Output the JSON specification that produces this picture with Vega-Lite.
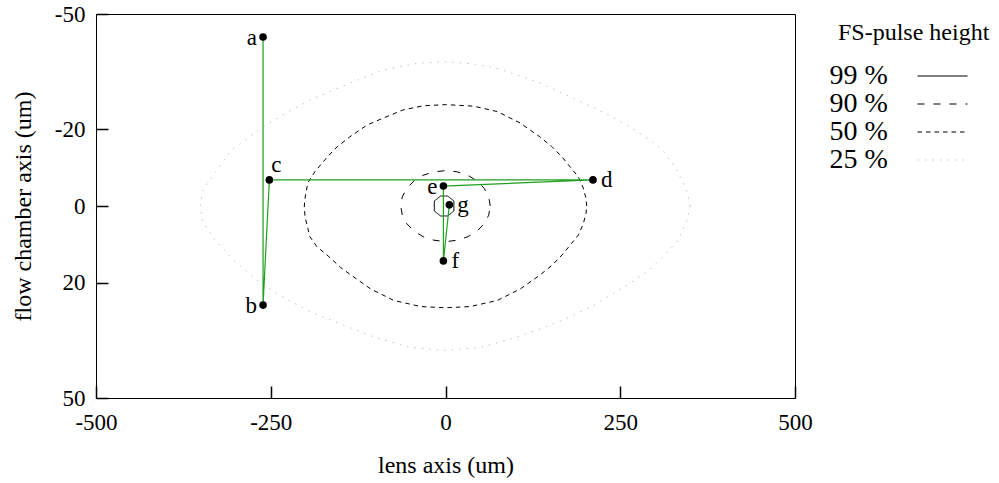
{
  "$schema": "https://vega.github.io/schema/vega-lite/v6.json",
  "width": 699,
  "height": 384,
  "autosize": "none",
  "padding": {"left": 96, "top": 14, "right": 204, "bottom": 85},
  "background": "white",
  "config": {
    "font": "Liberation Serif",
    "view": {"stroke": "black", "strokeWidth": 1},
    "axis": {
      "grid": false,
      "domain": false,
      "labelColor": "black",
      "titleColor": "black",
      "labelFlush": false,
      "labelFont": "Liberation Serif",
      "titleFont": "Liberation Serif",
      "labelFontSize": 23,
      "titleFontSize": 24,
      "titleFontWeight": "normal",
      "labelExpr": "'' + datum.value"
    }
  },
  "datasets": {
    "contours": [
      {"level": "25 %", "x": 350, "y": 0},
      {"level": "25 %", "x": 345, "y": -4},
      {"level": "25 %", "x": 331, "y": -9.4},
      {"level": "25 %", "x": 311, "y": -14.5},
      {"level": "25 %", "x": 290, "y": -17.5},
      {"level": "25 %", "x": 260, "y": -21},
      {"level": "25 %", "x": 230, "y": -24},
      {"level": "25 %", "x": 192, "y": -27.3},
      {"level": "25 %", "x": 160, "y": -30},
      {"level": "25 %", "x": 135, "y": -32},
      {"level": "25 %", "x": 100, "y": -34.3},
      {"level": "25 %", "x": 73, "y": -35.9},
      {"level": "25 %", "x": 40, "y": -37},
      {"level": "25 %", "x": 0, "y": -37.6},
      {"level": "25 %", "x": -40, "y": -37.2},
      {"level": "25 %", "x": -89, "y": -35.4},
      {"level": "25 %", "x": -130, "y": -32.5},
      {"level": "25 %", "x": -194, "y": -27.6},
      {"level": "25 %", "x": -230, "y": -24},
      {"level": "25 %", "x": -261, "y": -20.6},
      {"level": "25 %", "x": -306, "y": -14.6},
      {"level": "25 %", "x": -327, "y": -9.4},
      {"level": "25 %", "x": -347, "y": -4.2},
      {"level": "25 %", "x": -351, "y": 0},
      {"level": "25 %", "x": -347, "y": 4.2},
      {"level": "25 %", "x": -332, "y": 8.3},
      {"level": "25 %", "x": -304, "y": 14},
      {"level": "25 %", "x": -265, "y": 20},
      {"level": "25 %", "x": -230, "y": 24},
      {"level": "25 %", "x": -194, "y": 27.5},
      {"level": "25 %", "x": -160, "y": 30},
      {"level": "25 %", "x": -100, "y": 34.3},
      {"level": "25 %", "x": -50, "y": 36.8},
      {"level": "25 %", "x": 0, "y": 37.6},
      {"level": "25 %", "x": 50, "y": 36.8},
      {"level": "25 %", "x": 100, "y": 34.3},
      {"level": "25 %", "x": 135, "y": 32},
      {"level": "25 %", "x": 168, "y": 29.7},
      {"level": "25 %", "x": 211, "y": 26},
      {"level": "25 %", "x": 260, "y": 20.6},
      {"level": "25 %", "x": 292, "y": 16.7},
      {"level": "25 %", "x": 331, "y": 9.4},
      {"level": "25 %", "x": 345, "y": 4},
      {"level": "25 %", "x": 350, "y": 0},

      {"level": "50 %", "x": 202, "y": 0},
      {"level": "50 %", "x": 201, "y": -2},
      {"level": "50 %", "x": 197, "y": -4.7},
      {"level": "50 %", "x": 190, "y": -7.6},
      {"level": "50 %", "x": 180, "y": -9.8},
      {"level": "50 %", "x": 168, "y": -12.5},
      {"level": "50 %", "x": 152, "y": -15.5},
      {"level": "50 %", "x": 135, "y": -18},
      {"level": "50 %", "x": 107, "y": -21.6},
      {"level": "50 %", "x": 74, "y": -24.6},
      {"level": "50 %", "x": 40, "y": -26},
      {"level": "50 %", "x": 0, "y": -26.4},
      {"level": "50 %", "x": -32, "y": -26.1},
      {"level": "50 %", "x": -61, "y": -25},
      {"level": "50 %", "x": -89, "y": -22.9},
      {"level": "50 %", "x": -112, "y": -21.1},
      {"level": "50 %", "x": -137, "y": -18},
      {"level": "50 %", "x": -155, "y": -15.4},
      {"level": "50 %", "x": -168, "y": -13},
      {"level": "50 %", "x": -187, "y": -8.9},
      {"level": "50 %", "x": -197, "y": -6},
      {"level": "50 %", "x": -201, "y": -2},
      {"level": "50 %", "x": -202, "y": 0},
      {"level": "50 %", "x": -201, "y": 2.8},
      {"level": "50 %", "x": -194, "y": 8},
      {"level": "50 %", "x": -184, "y": 10.6},
      {"level": "50 %", "x": -168, "y": 13},
      {"level": "50 %", "x": -150, "y": 16},
      {"level": "50 %", "x": -135, "y": 18},
      {"level": "50 %", "x": -107, "y": 21.6},
      {"level": "50 %", "x": -74, "y": 24.6},
      {"level": "50 %", "x": -35, "y": 26.2},
      {"level": "50 %", "x": 0, "y": 26.5},
      {"level": "50 %", "x": 35, "y": 26.2},
      {"level": "50 %", "x": 74, "y": 24.6},
      {"level": "50 %", "x": 107, "y": 21.6},
      {"level": "50 %", "x": 135, "y": 18},
      {"level": "50 %", "x": 152, "y": 15.5},
      {"level": "50 %", "x": 168, "y": 12.5},
      {"level": "50 %", "x": 180, "y": 9.8},
      {"level": "50 %", "x": 190, "y": 7.6},
      {"level": "50 %", "x": 197, "y": 4.7},
      {"level": "50 %", "x": 201, "y": 2},
      {"level": "50 %", "x": 202, "y": 0},

      {"level": "90 %", "x": 64, "y": 0},
      {"level": "90 %", "x": 61.8, "y": -2.4},
      {"level": "90 %", "x": 55.4, "y": -4.6},
      {"level": "90 %", "x": 45.3, "y": -6.5},
      {"level": "90 %", "x": 32, "y": -8},
      {"level": "90 %", "x": 16.6, "y": -8.9},
      {"level": "90 %", "x": 0, "y": -9.2},
      {"level": "90 %", "x": -16.6, "y": -8.9},
      {"level": "90 %", "x": -32, "y": -8},
      {"level": "90 %", "x": -45.3, "y": -6.5},
      {"level": "90 %", "x": -55.4, "y": -4.6},
      {"level": "90 %", "x": -61.8, "y": -2.4},
      {"level": "90 %", "x": -64, "y": 0},
      {"level": "90 %", "x": -61.8, "y": 2.4},
      {"level": "90 %", "x": -55.4, "y": 4.6},
      {"level": "90 %", "x": -45.3, "y": 6.5},
      {"level": "90 %", "x": -32, "y": 8},
      {"level": "90 %", "x": -16.6, "y": 8.9},
      {"level": "90 %", "x": 0, "y": 9.3},
      {"level": "90 %", "x": 16.6, "y": 8.9},
      {"level": "90 %", "x": 32, "y": 8},
      {"level": "90 %", "x": 45.3, "y": 6.5},
      {"level": "90 %", "x": 55.4, "y": 4.6},
      {"level": "90 %", "x": 61.8, "y": 2.4},
      {"level": "90 %", "x": 64, "y": 0},

      {"level": "99 %", "x": -16, "y": -1.3},
      {"level": "99 %", "x": -7, "y": -2.6},
      {"level": "99 %", "x": 3, "y": -2.6},
      {"level": "99 %", "x": 12, "y": -1.3},
      {"level": "99 %", "x": 12, "y": 1.3},
      {"level": "99 %", "x": 3, "y": 2.6},
      {"level": "99 %", "x": -7, "y": 2.6},
      {"level": "99 %", "x": -16, "y": 1.3},
      {"level": "99 %", "x": -16, "y": -1.3}
    ],
    "track": [
      {"name": "a", "x": -261, "y": -44},
      {"name": "b", "x": -261, "y": 25.8},
      {"name": "c", "x": -252, "y": -6.8},
      {"name": "d", "x": 211, "y": -6.8},
      {"name": "e", "x": -3, "y": -5.2},
      {"name": "f", "x": -3, "y": 14.3},
      {"name": "g", "x": 5.5, "y": -0.3}
    ]
  },
  "encoding": {
    "x": {
      "field": "x",
      "type": "quantitative",
      "scale": {"domain": [-500, 500], "nice": false, "zero": false},
      "axis": {
        "title": "lens axis (um)",
        "values": [-500, -250, 0, 250, 500],
        "ticks": true,
        "tickSize": 12,
        "tickColor": "black",
        "tickWidth": 1.5,
        "tickOpacity": 1,
        "offset": -12,
        "zindex": 2,
        "labelPadding": 13,
        "titlePadding": 19
      }
    },
    "y": {
      "field": "y",
      "type": "quantitative",
      "scale": {"domain": [-50, 50], "nice": false, "zero": false, "reverse": true},
      "axis": {
        "title": "flow chamber axis (um)",
        "values": [-50, -20, 0, 20, 50],
        "ticks": true,
        "tickSize": 12,
        "tickColor": "black",
        "tickWidth": 1.5,
        "tickOpacity": 1,
        "offset": -12,
        "zindex": 2,
        "labelPadding": 11,
        "titlePadding": 19
      }
    }
  },
  "layer": [
    {
      "data": {"name": "contours"},
      "mark": {"type": "line", "strokeWidth": 1, "clip": true},
      "encoding": {
        "order": {"value": null},
        "color": {
          "field": "level",
          "type": "nominal",
          "sort": ["99 %", "90 %", "50 %", "25 %"],
          "scale": {
            "domain": ["99 %", "90 %", "50 %", "25 %"],
            "range": ["black", "black", "black", "#c4c4c4"]
          },
          "legend": {
            "title": "FS-pulse height",
            "orient": "none",
            "legendX": 742,
            "legendY": 7,
            "symbolType": "M-5,0H5",
            "symbolSize": 100,
            "symbolStrokeWidth": 1.2,
            "rowPadding": -0.4,
            "labelOffset": -127,
            "symbolOffset": 90.5,
            "labelFont": "Liberation Serif",
            "labelFontSize": 28,
            "labelColor": "black",
            "titleFont": "Liberation Serif",
            "titleFontSize": 24,
            "titleFontWeight": "normal",
            "titleColor": "black",
            "titlePadding": 17
          }
        },
        "strokeDash": {
          "field": "level",
          "type": "nominal",
          "sort": ["99 %", "90 %", "50 %", "25 %"],
          "scale": {
            "domain": ["99 %", "90 %", "50 %", "25 %"],
            "range": [[1, 0], [7, 9], [4.5, 4], [1.5, 6]]
          },
          "legend": {
            "title": "FS-pulse height",
            "orient": "none",
            "legendX": 742,
            "legendY": 7,
            "symbolType": "M-5,0H5",
            "symbolSize": 100,
            "symbolStrokeWidth": 1.2,
            "rowPadding": -0.4,
            "labelOffset": -127,
            "symbolOffset": 90.5,
            "labelFont": "Liberation Serif",
            "labelFontSize": 28,
            "labelColor": "black",
            "titleFont": "Liberation Serif",
            "titleFontSize": 24,
            "titleFontWeight": "normal",
            "titleColor": "black",
            "titlePadding": 17
          }
        }
      }
    },
    {
      "data": {"name": "track"},
      "mark": {"type": "line", "color": "#1ea01e", "strokeWidth": 1.2},
      "encoding": {"order": {"value": null}}
    },
    {
      "data": {"name": "track"},
      "mark": {"type": "circle", "size": 58, "color": "black", "opacity": 1}
    },
    {
      "data": {"name": "track"},
      "transform": [{"filter": "datum.name === 'a' || datum.name === 'b' || datum.name === 'e'"}],
      "mark": {"type": "text", "align": "right", "baseline": "middle", "dx": -6, "dy": 1, "fontSize": 23, "color": "black"},
      "encoding": {"text": {"field": "name"}}
    },
    {
      "data": {"name": "track"},
      "transform": [{"filter": "datum.name === 'd' || datum.name === 'f' || datum.name === 'g'"}],
      "mark": {"type": "text", "align": "left", "baseline": "middle", "dx": 8, "dy": 0, "fontSize": 23, "color": "black"},
      "encoding": {"text": {"field": "name"}}
    },
    {
      "data": {"name": "track"},
      "transform": [{"filter": "datum.name === 'c'"}],
      "mark": {"type": "text", "align": "left", "baseline": "middle", "dx": 2, "dy": -15, "fontSize": 23, "color": "black"},
      "encoding": {"text": {"field": "name"}}
    }
  ]
}
